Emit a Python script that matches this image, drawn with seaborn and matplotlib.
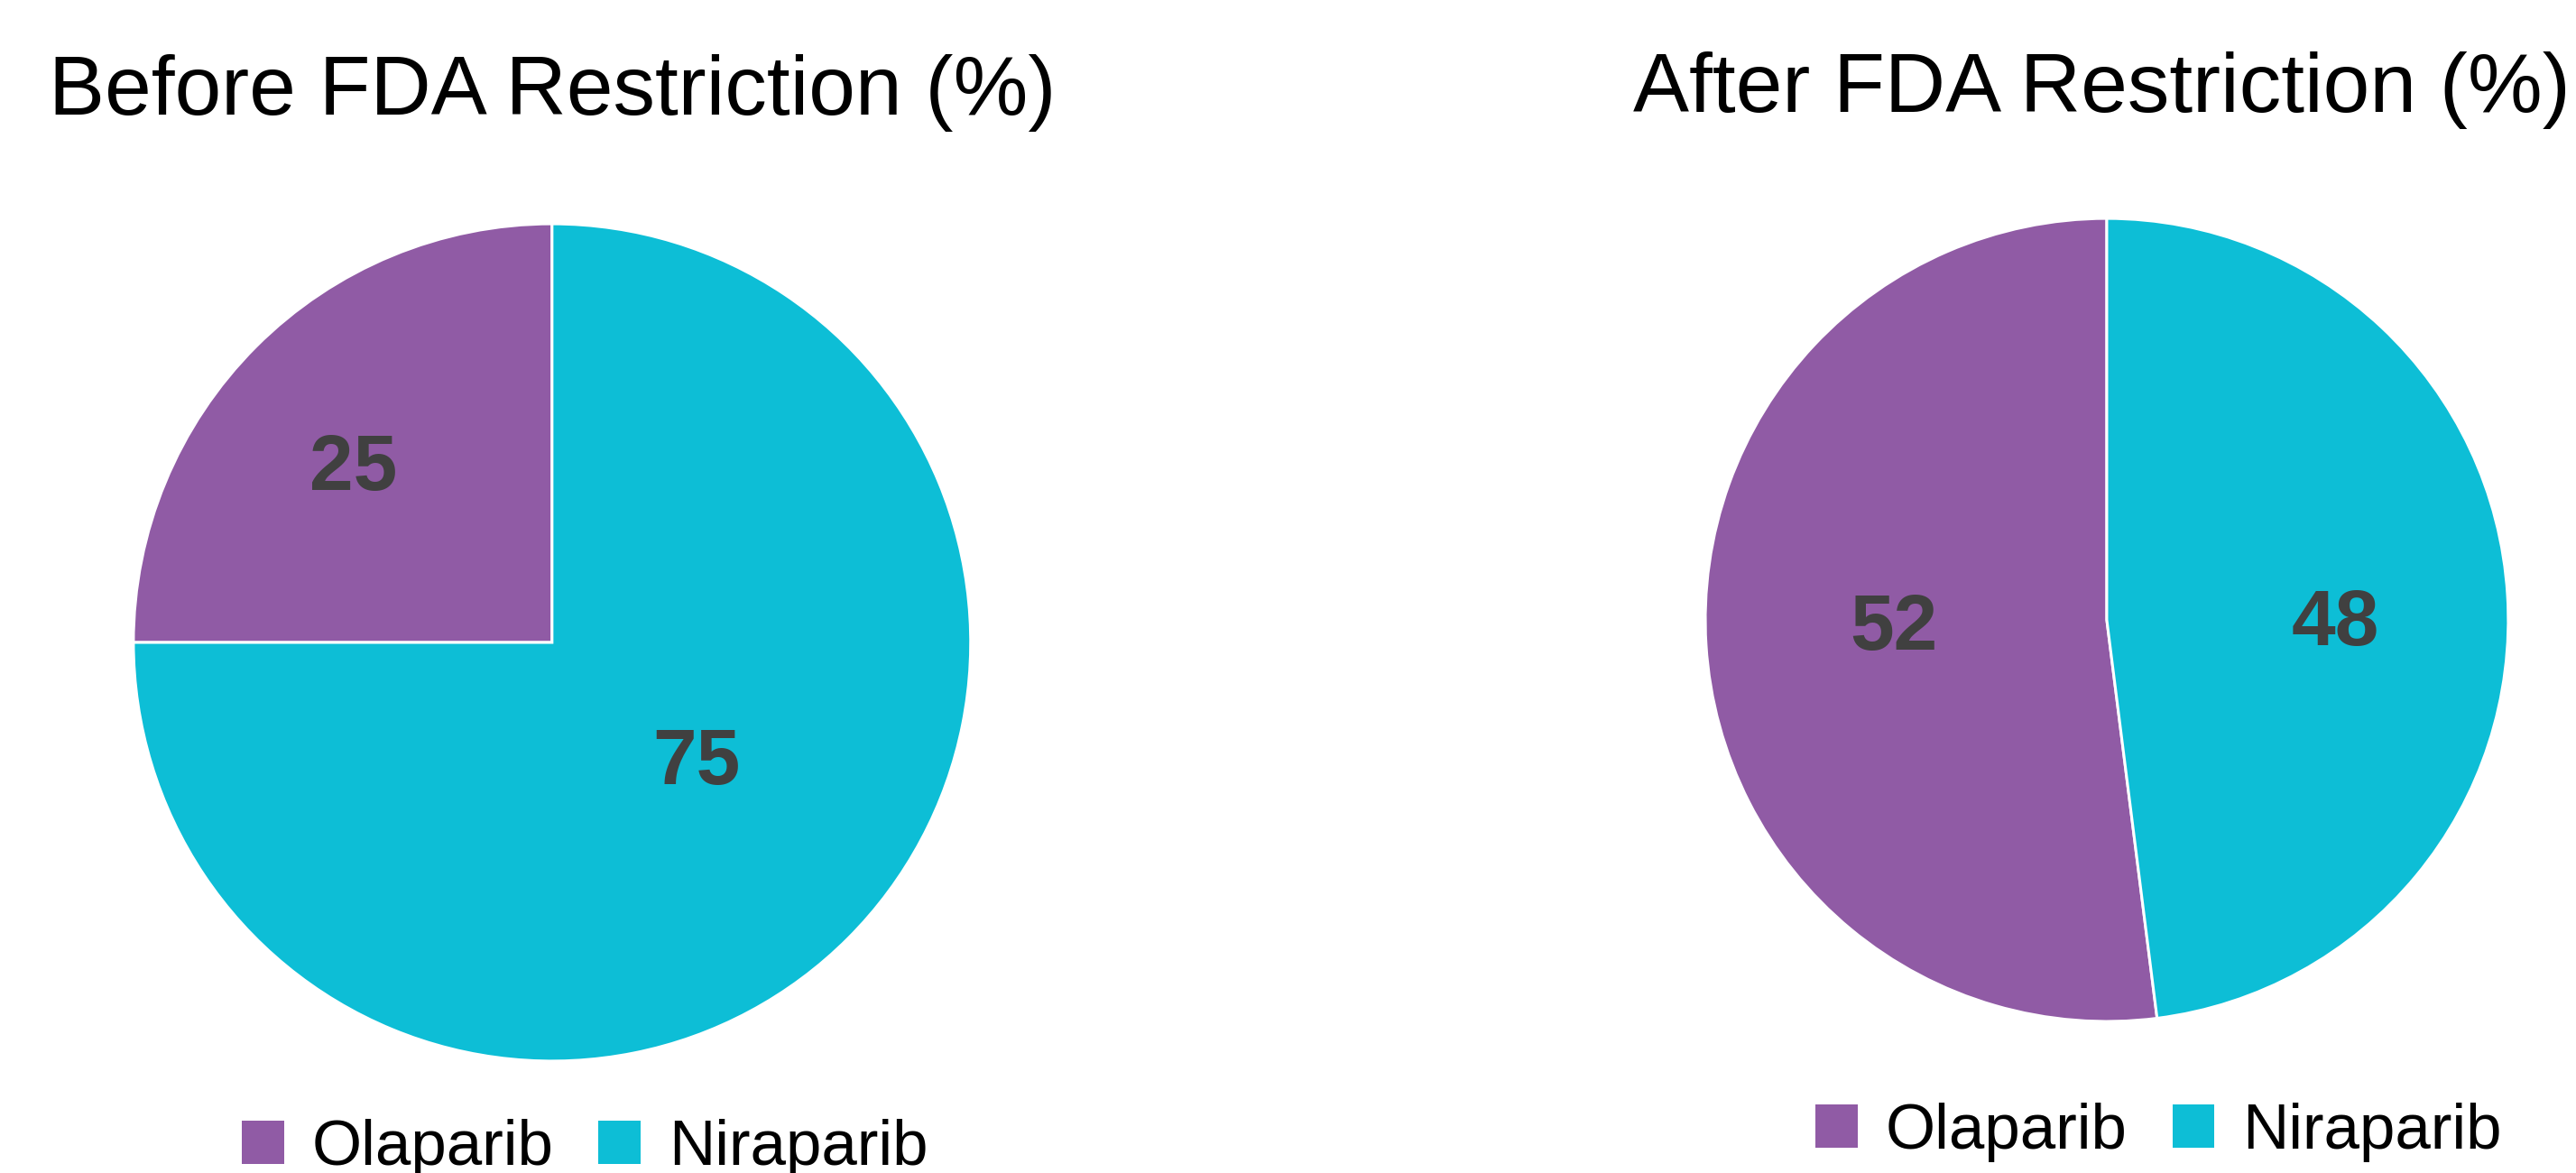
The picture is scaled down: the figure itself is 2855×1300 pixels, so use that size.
import matplotlib
matplotlib.use("Agg")
import matplotlib.pyplot as plt
import seaborn as sns
import numpy as np
from matplotlib.patches import Patch

# Share of PARP inhibitor use before and after the FDA restriction
drugs = ["Olaparib", "Niraparib"]
before_pct = [25, 75]
after_pct = [52, 48]
titles = ["Before FDA Restriction (%)", "After FDA Restriction (%)"]

colors = ["#905BA5", "#0DBED6"]
label_color = "#404040"

sns.set_theme(style="white")
plt.rcParams["font.family"] = ["Liberation Sans", "DejaVu Sans"]

DPI = 100
fig = plt.figure(figsize=(28.55, 13.0), dpi=DPI)
fig.patch.set_facecolor("white")

# axes rectangles (figure fractions) for the two pies
rects = [
    [0.0518, 0.0954, 0.3250, 0.7138],
    [0.6620, 0.1292, 0.3117, 0.6846],
]
# value label placement per wedge: radius fraction and angular shift (deg)
label_dist = [[0.63, 0.45], [0.53, 0.57]]
label_shift = [[4.0, 5.0], [-1.0, -4.8]]
title_pos = [(0.0190, 0.902), (0.6340, 0.9046)]
legend_pos = [(0.0938, 0.021), (0.7048, 0.0345)]

for i, vals in enumerate([before_pct, after_pct]):
    ax = fig.add_axes(rects[i])
    wedges, _ = ax.pie(
        vals,
        colors=colors,
        startangle=90,
        counterclock=True,
        radius=1.0,
        wedgeprops=dict(edgecolor="white", linewidth=2.2),
    )
    for w, v, d, s in zip(wedges, vals, label_dist[i], label_shift[i]):
        mid = np.deg2rad((w.theta1 + w.theta2) / 2.0 + s)
        ax.text(d * np.cos(mid), d * np.sin(mid), f"{v}",
                ha="center", va="center", fontsize=63,
                fontweight="bold", color=label_color)
    ax.set_xlim(-1.0, 1.0)
    ax.set_ylim(-1.0, 1.0)
    ax.set_aspect("equal")
    ax.axis("off")

    fig.text(title_pos[i][0], title_pos[i][1], titles[i],
             ha="left", va="baseline", fontsize=67, color="black")

    handles = [Patch(facecolor=c, edgecolor="none") for c in colors]
    fig.legend(handles, drugs, loc="center left",
               bbox_to_anchor=legend_pos[i], ncol=2, frameon=False,
               fontsize=51, handlelength=0.66, handleheight=0.66,
               handletextpad=0.44, columnspacing=0.7,
               borderpad=0, borderaxespad=0, labelcolor="black")

fig.savefig("out.png", dpi=DPI, facecolor="white")
